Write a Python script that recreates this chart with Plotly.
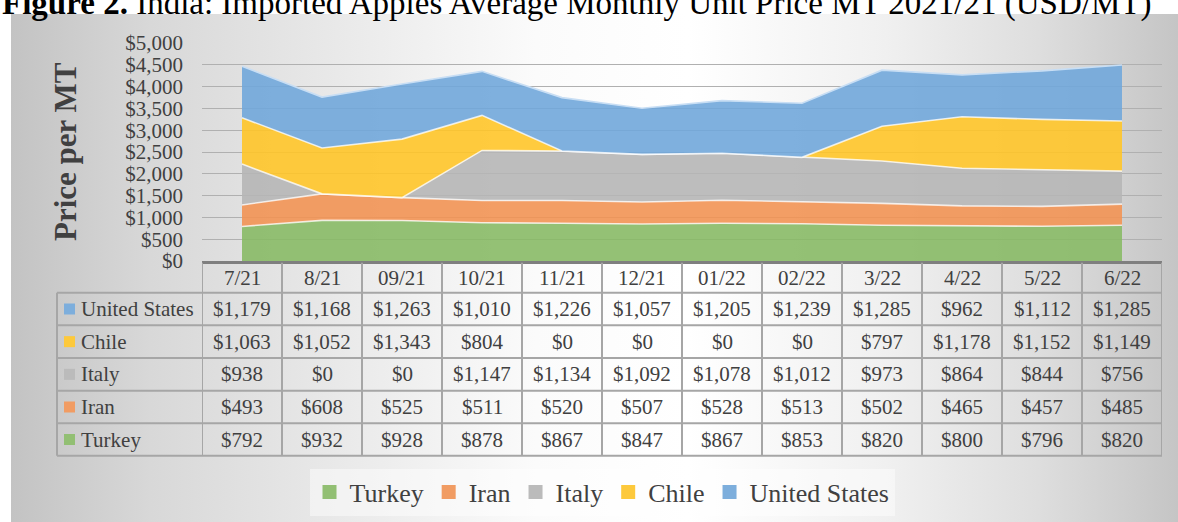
import base64
import plotly.graph_objects as go

months = ["7/21", "8/21", "09/21", "10/21", "11/21", "12/21",
          "01/22", "02/22", "3/22", "4/22", "5/22", "6/22"]
turkey = [792, 932, 928, 878, 867, 847, 867, 853, 820, 800, 796, 820]
iran = [493, 608, 525, 511, 520, 507, 528, 513, 502, 465, 457, 485]
italy = [938, 0, 0, 1147, 1134, 1092, 1078, 1012, 973, 864, 844, 756]
chile = [1063, 1052, 1343, 804, 0, 0, 0, 0, 797, 1178, 1152, 1149]
united_states = [1179, 1168, 1263, 1010, 1226, 1057, 1205, 1239, 1285, 962, 1112, 1285]

series_names = ["Turkey", "Iran", "Italy", "Chile", "United States"]
series_values = [turkey, iran, italy, chile, united_states]
fill_colors = ["rgba(136,186,102,0.9)", "rgba(242,147,84,0.9)", "rgba(182,182,182,0.9)",
               "rgba(255,197,41,0.9)", "rgba(113,167,218,0.9)"]
key_colors = ["#92BF73", "#F19C63", "#BBBBBB", "#FDC93C", "#7DAEDC"]
edge_colors = ["rgba(255,255,255,0.75)", "rgba(255,255,255,0.75)", "rgba(255,255,255,0.75)",
               "rgba(255,255,255,0.75)", "rgba(200,222,244,1)"]

FONT = "Liberation Serif, Times New Roman, serif"
TXT = "#404040"

# plot-area geometry (pixels)
FW, FH = 1178, 522
PL, PR, PT, PB = 202, 1162, 43, 261
W, H = PR - PL, PB - PT


def px(x):
    return (x - PL) / W


def py(y):
    return (PB - y) / H


fig = go.Figure()
for name, vals, fc, ec in zip(series_names, series_values, fill_colors, edge_colors):
    fig.add_trace(go.Scatter(
        x=months, y=vals, name=name, stackgroup="one", mode="lines",
        line=dict(color=ec, width=1.6), fillcolor=fc, showlegend=False,
        hoverinfo="x+y+name"))
for name, kc in zip(series_names, key_colors):
    fig.add_trace(go.Scatter(
        x=[None], y=[None], name=name, mode="markers",
        marker=dict(symbol="square", size=14, color=kc, line=dict(width=0)),
        showlegend=True))

# background panel (horizontal grey-white-grey gradient)
svg = ("<svg xmlns='http://www.w3.org/2000/svg' width='1167' height='508' viewBox='0 0 1167 508' "
       "preserveAspectRatio='none'><defs><linearGradient id='g' x1='0' y1='0' x2='1' y2='0'>"
       "<stop offset='0' stop-color='#c3c3c3'/><stop offset='0.12' stop-color='#d8d8d8'/>"
       "<stop offset='0.27' stop-color='#e8e8e8'/><stop offset='0.45' stop-color='#fbfbfb'/>"
       "<stop offset='0.58' stop-color='#ffffff'/><stop offset='0.75' stop-color='#f0f0f0'/>"
       "<stop offset='0.88' stop-color='#dedede'/><stop offset='1' stop-color='#c5c5c5'/>"
       "</linearGradient></defs><rect x='0' y='0' width='1167' height='508' fill='url(#g)'/></svg>")
src = "data:image/svg+xml;base64," + base64.b64encode(svg.encode()).decode()
fig.add_layout_image(dict(source=src, xref="paper", yref="paper", x=px(11), y=py(14),
                          sizex=(1178 - 11) / W, sizey=(522 - 14) / H, sizing="stretch",
                          xanchor="left", yanchor="top", layer="below"))

# data table below the plot
row_bounds = [262.7, 292.7, 325.3, 358.0, 390.7, 423.3, 455.7]
grid_c = "#a6a6a6"
shapes = []
n = len(months)
for i in range(n + 1):
    shapes.append(dict(type="line", xref="x", yref="paper", x0=i - 0.5, x1=i - 0.5,
                       y0=py(row_bounds[0]), y1=py(row_bounds[-1]),
                       line=dict(color=grid_c, width=2)))
for yb in row_bounds[1:]:
    shapes.append(dict(type="line", xref="paper", yref="paper", x0=px(57), x1=1,
                       y0=py(yb), y1=py(yb), line=dict(color=grid_c, width=2)))
shapes.append(dict(type="line", xref="paper", yref="paper", x0=px(57), x1=px(57),
                   y0=py(row_bounds[1]), y1=py(row_bounds[-1]), line=dict(color=grid_c, width=2)))

annotations = []
hdr_y = py((row_bounds[0] + row_bounds[1]) / 2)
for m in months:
    annotations.append(dict(x=m, y=hdr_y, xref="x", yref="paper", text=m, showarrow=False,
                            font=dict(family=FONT, size=21, color=TXT), xanchor="center",
                            yanchor="middle"))
table_order = list(range(len(series_names)))[::-1]
for r, si in enumerate(table_order):
    yc = py((row_bounds[r + 1] + row_bounds[r + 2]) / 2)
    shapes.append(dict(type="rect", xref="paper", yref="paper", xsizemode="pixel",
                       ysizemode="pixel", xanchor=px(57), yanchor=yc, x0=7, x1=18,
                       y0=-5.5, y1=5.5, fillcolor=key_colors[si], line=dict(width=0)))
    annotations.append(dict(x=px(79), y=yc, xref="paper", yref="paper",
                            text=series_names[si], showarrow=False,
                            font=dict(family=FONT, size=21, color=TXT),
                            xanchor="left", yanchor="middle"))
    for m, v in zip(months, series_values[si]):
        annotations.append(dict(x=m, y=yc, xref="x", yref="paper", text=f"${v:,}",
                                showarrow=False, font=dict(family=FONT, size=21, color=TXT),
                                xanchor="center", yanchor="middle"))

# axis title
annotations.append(dict(x=px(65), y=0.5, xref="paper", yref="paper", text="<b>Price per MT</b>",
                        textangle=-90, showarrow=False,
                        font=dict(family=FONT, size=31, color=TXT),
                        xanchor="center", yanchor="middle"))
# figure title (clipped at top as in the source)
annotations.append(dict(x=px(0), y=py(3.5), xref="paper", yref="paper",
                        text="<b>Figure 2.</b> India: Imported Apples Average Monthly Unit Price MT 2021/21 (USD/MT)",
                        showarrow=False, font=dict(family=FONT, size=33, color="#000000"),
                        xanchor="left", yanchor="middle"))

fig.update_layout(
    width=FW, height=FH,
    margin=dict(l=PL, r=FW - PR, t=PT, b=FH - PB, pad=0, autoexpand=False),
    paper_bgcolor="white", plot_bgcolor="rgba(0,0,0,0)",
    font=dict(family=FONT, color=TXT),
    xaxis=dict(type="category", range=[-0.5, n - 0.5], showticklabels=False, showgrid=False,
               zeroline=False, showline=True, linecolor="#7f7f7f", linewidth=2.5, ticks=""),
    yaxis=dict(range=[0, 5000], dtick=500, tickprefix="$", tickformat=",d", showgrid=True,
               gridcolor="#b0b0b0", gridwidth=1.4, zeroline=False, showline=False, ticks="",
               ticklabelstandoff=18, tickfont=dict(family=FONT, size=21, color=TXT)),
    legend=dict(orientation="h", x=px(602), y=py(492), xanchor="center", yanchor="middle",
                traceorder="normal",
                bgcolor="rgba(255,255,255,0.45)", font=dict(family=FONT, size=26, color=TXT),
                itemwidth=30),
    shapes=shapes, annotations=annotations,
)

fig.write_html("out.html", config={"displayModeBar": False},
               post_script="document.body.style.margin='0';document.body.style.overflow='hidden';")
